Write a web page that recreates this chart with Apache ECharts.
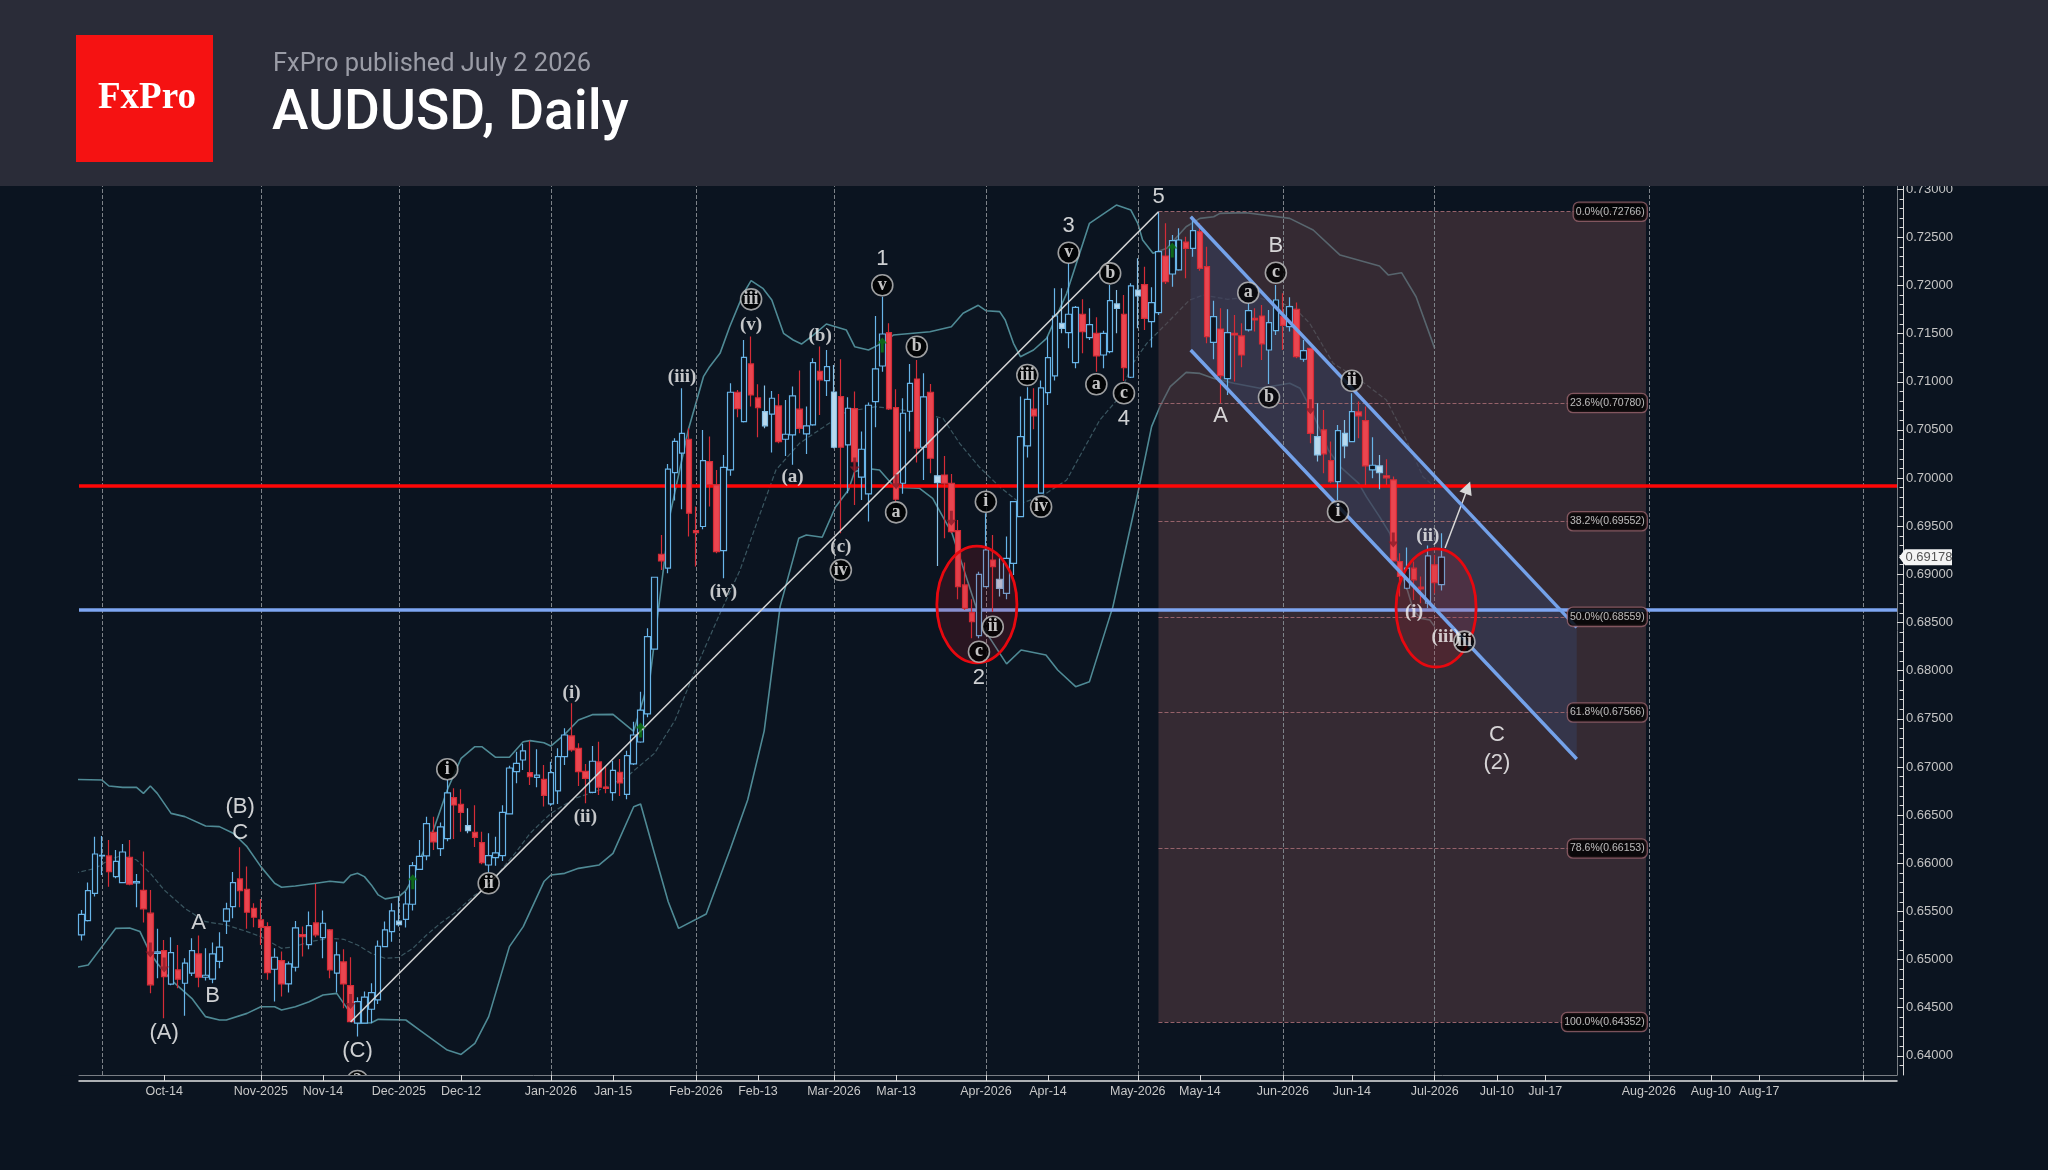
<!DOCTYPE html>
<html>
<head>
<meta charset="utf-8">
<title>AUDUSD, Daily</title>
<script src="https://cdn.jsdelivr.net/npm/echarts@6/dist/echarts.min.js"></script>
<style>html,body{margin:0;padding:0;background:#0b1420}#chart{width:2048px;height:1170px}</style>
</head>
<body>
<div id="chart"></div>
<script>
// Daily AUDUSD candles: [open, close, low, high], one row per trading day
const ohlc = [
[.65256,.65470,.65197,.65515],[.65404,.65716,.65394,.65799],[.65688,.66096,.65654,.66276],[.66076,.66083,.65878,.66283],
[.66076,.65913,.65757,.66242],[.65861,.66020,.65844,.66138],[.65799,.66117,.65792,.66200],[.66062,.65782,.65771,.66242],
[.65795,.65809,.65543,.65889],[.65719,.65526,.65384,.66121],[.65481,.64737,.64650,.65723],[.65065,.65079,.64806,.65321],
[.65093,.64823,.64391,.65204],[.64744,.65072,.64733,.65231],[.64892,.64796,.64702,.65152],[.64754,.64962,.64415,.65013],
[.64858,.65093,.64830,.65221],[.65058,.64816,.64712,.65249],[.64816,.64837,.64782,.65117],[.64796,.65058,.64754,.65176],
[.64982,.65128,.64910,.65283],[.65398,.65526,.65266,.65591],[.65550,.65799,.65429,.65910],[.65837,.65716,.65543,.66166],
[.65730,.65491,.65321,.65965],[.65532,.65439,.65335,.65584],[.65411,.65335,.65152,.65629],[.65342,.64865,.64789,.65387],
[.64899,.65024,.64564,.65117],[.64989,.64747,.64616,.65083],[.64747,.64955,.64657,.64979],[.64920,.65328,.64875,.65401],
[.65259,.65238,.65031,.65342],[.65155,.65353,.65107,.65498],[.65380,.65256,.65231,.65785],[.65228,.65377,.65013,.65508],
[.65308,.64892,.64806,.65318],[.64858,.65048,.64657,.65186],[.64975,.64747,.64494,.65107],[.64730,.64356,.64352,.65024],
[.64339,.64564,.64200,.64609],[.64339,.64609,.64332,.64667],[.64484,.64657,.64339,.64754],[.64581,.65138,.64539,.65197],
[.65135,.65308,.65128,.65394],[.65290,.65505,.65186,.65584],[.65363,.65398,.65342,.65654],[.65418,.65577,.65332,.65705],
[.65574,.65975,.65508,.66013],[.65937,.66072,.65930,.66242],[.66076,.66411,.66031,.66484],[.66321,.66221,.66138,.66484],
[.66152,.66377,.66076,.66422],[.66256,.66730,.66228,.66865],[.66681,.66605,.66252,.66778],[.66612,.66529,.66328,.66768],
[.66339,.66391,.66311,.66570],[.66321,.66269,.66169,.66602],[.66214,.66007,.65989,.66328],[.65982,.66079,.65906,.66311],
[.66058,.66107,.65975,.66276],[.66079,.66529,.66024,.66602],[.66512,.66989,.66508,.67013],[.66951,.67038,.66830,.67159],
[.67072,.67166,.66968,.67238],[.66941,.66899,.66813,.67273],[.66892,.66916,.66788,.67183],[.66872,.66705,.66588,.67020],
[.66616,.66941,.66598,.67055],[.66751,.67107,.66616,.67193],[.67107,.67332,.67020,.67401],[.67322,.67176,.67159,.67661],
[.67193,.66951,.66803,.67245],[.66955,.66882,.66623,.67031],[.66737,.67059,.66726,.67218],[.67052,.66789,.66709,.67263],
[.66792,.66778,.66726,.67003],[.66733,.66965,.66650,.67065],[.66944,.66834,.66699,.67083],[.66716,.67117,.66664,.67169],
[.67031,.67332,.67020,.67470],[.67259,.67591,.67252,.67782],[.67551,.68354,.67517,.68440],[.68223,.68970,.68216,.68970],
[.69209,.69139,.69046,.69409],[.69064,.70092,.69012,.70147],[.70057,.70382,.69766,.70413],[.70258,.70465,.69677,.70932],
[.70403,.69635,.69393,.70517],[.69455,.69434,.69081,.69704],[.69497,.70182,.69469,.70500],[.70171,.69933,.69704,.70431],
[.69929,.69237,.69220,.70085],[.69247,.70112,.68960,.70240],[.70085,.70891,.70023,.70984],[.70891,.70721,.70631,.70915],
[.70586,.71254,.70576,.71434],[.71185,.70863,.70742,.71469],[.70832,.70732,.70424,.70974],[.70542,.70690,.70517,.70960],
[.70663,.70829,.70265,.70905],[.70749,.70379,.70362,.70874],[.70403,.70455,.70230,.70811],[.70448,.70853,.70137,.70950],
[.70715,.70517,.70465,.71116],[.70458,.70542,.70251,.70742],[.70552,.71199,.70542,.71244],[.71109,.71019,.70656,.71365],
[.71012,.71157,.70853,.71330],[.70320,.70894,.70310,.71175],[.70846,.70320,.69427,.71234],[.70344,.70725,.69843,.70839],
[.70721,.70171,.69721,.70898],[.70009,.70299,.69773,.70483],[.69836,.70756,.69548,.70784],[.70794,.71133,.70528,.71683],
[.71164,.71496,.71105,.71884],[.71510,.70718,.70708,.71607],[.70732,.69780,.69756,.70922],[.69946,.70673,.69836,.70829],
[.70694,.70984,.70483,.71185],[.71029,.70310,.70161,.71227],[.70320,.70843,.69981,.71088],[.70891,.70206,.70050,.70977],
[.69953,.70023,.69088,.70621],[.70032,.69946,.69374,.70230],[.69946,.69444,.69426,.70042],[.69454,.68873,.68741,.69565],
[.68890,.68648,.68630,.69122],[.68603,.68509,.68336,.68741],[.68364,.69000,.68336,.69028],[.68873,.69253,.68866,.69634],
[.69149,.69080,.68613,.69409],[.68855,.68949,.68769,.69167],[.68803,.69167,.68741,.69392],[.69115,.69755,.68994,.69762],
[.69600,.70431,.69593,.70846],[.70334,.70818,.70213,.70943],[.70715,.70645,.70507,.70932],[.69843,.70936,.69836,.71012],
[.70888,.71251,.70759,.71469],[.71061,.71683,.71012,.71970],[.71555,.71607,.71503,.71970],[.71510,.71701,.71348,.72230],
[.71199,.71773,.71140,.71787],[.71701,.71521,.71296,.71856],[.71458,.71593,.71434,.71763],[.71503,.71268,.71105,.71669],
[.71278,.71503,.71140,.71531],[.71313,.71842,.71296,.72005],[.71763,.71808,.71503,.71953],[.71701,.71147,.71009,.71901],
[.71047,.71995,.71040,.72022],[.71891,.71953,.71555,.72282],[.72009,.71659,.71538,.72195],[.71625,.71822,.71355,.71981],
[.71718,.72351,.71694,.72766],[.72306,.72040,.72015,.72645],[.72119,.72465,.71988,.72524],[.72161,.72472,.72154,.72593],
[.72451,.72386,.72074,.72507],[.72386,.72569,.72299,.72714],[.72559,.72178,.72154,.72645],[.72195,.71469,.71400,.72403],
[.71410,.71676,.71234,.71842],[.71548,.71064,.70777,.71763],[.71033,.71510,.70863,.71753],[.71503,.71486,.71002,.71694],
[.71476,.71278,.71150,.71607],[.71538,.71739,.71521,.71815],[.71659,.71642,.71521,.71763],[.71683,.71393,.71227,.71797],
[.71330,.71614,.70977,.71746],[.71531,.71849,.71486,.72005],[.71676,.71586,.71330,.71919],[.71573,.71780,.71521,.71877],
[.71753,.71261,.71244,.71822],[.71234,.71323,.71209,.71434],[.71348,.70465,.70362,.71348],[.70240,.70431,.70171,.70777],
[.70500,.70251,.70050,.70708],[.70182,.69964,.69946,.70379],[.69964,.70493,.69773,.70552],[.70334,.70465,.70206,.70604],
[.70379,.70690,.70372,.70881],[.70687,.70645,.70413,.70794],[.70597,.70126,.69929,.70742],[.70085,.70133,.69998,.70424],
[.70057,.70126,.69884,.70240],[.70023,.70002,.69929,.70196],[.69981,.69140,.69133,.70016],[.69133,.68978,.68770,.69220],
[.68856,.69064,.68846,.69279],[.69064,.68943,.68735,.69133],[.68867,.68849,.68701,.68978],[.68701,.69192,.68649,.69299],
[.69099,.68915,.68805,.69202],[.68894,.69178,.68832,.69427]
];
// Small-bodied days that print as a solid pale bar
const paleBars = [46,56,99,109,124,133,142,150,153,179,183,188];

// Bollinger bands sampled as [bar index, price]
const bandUpper = [[-1,.66871],[3,.66864],[4,.66802],[6,.66788],[8,.66788],[9,.66726],[10,.66802],[11,.66726],[13,.66518],[15,.66484],[18,.66387],[20,.66380],[22,.66311],[24,.66172],[26,.65965],[28,.65792],[29,.65751],[31,.65764],[34,.65792],[36,.65813],[38,.65799],[39,.65875],[40,.65896],[41,.65861],[42,.65775],[43,.65671],[44,.65630],[46,.65654],[47,.65716],[48,.65844],[49,.66034],[51,.66346],[53,.66761],[55,.67089],[57,.67210],[58,.67210],[60,.67100],[62,.67100],[64,.67262],[65,.67273],[67,.67252],[68,.67217],[70,.67338],[72,.67487],[74,.67543],[77,.67546],[80,.67370],[82.4,.67950],[85.3,.69634],[87.9,.70499],[90.1,.71053],[91,.71157],[92.5,.71295],[93.9,.71572],[95.9,.71918],[97,.72050],[98.7,.71970],[100,.71849],[101.7,.71503],[103.1,.71434],[104.3,.71392],[106,.71485],[107.9,.71600],[110.8,.71537],[112,.71364],[114,.71330],[115.9,.71399],[117.6,.71485],[122.9,.71520],[126,.71572],[127.7,.71711],[129.9,.71794],[131,.71738],[133,.71728],[133.8,.71641],[135,.71399],[136,.71260],[137.9,.71330],[139.8,.71451],[142.7,.71918],[146,.72645],[149.9,.72835],[152,.72783],[153,.72645],[153.7,.72472],[155.2,.72334],[157.2,.72386],[160,.72610],[162,.72697],[164,.72714],[164.9,.72749],[168.7,.72756],[175,.72697],[178.4,.72576],[182.3,.72316],[188,.72202],[189.3,.72108],[191.2,.72133],[193.3,.71883],[196,.71347]];
const bandMiddle = [[-1,.65895],[2,.65947],[4,.66034],[6,.66085],[8,.66034],[10,.65895],[12,.65722],[15,.65532],[18,.65393],[21,.65359],[24,.65290],[26,.65238],[29,.65116],[31,.65134],[33,.65186],[36,.65220],[38,.65210],[40,.65151],[42,.65064],[44,.65012],[46,.65023],[48,.65116],[50,.65255],[52,.65376],[54,.65480],[57,.65670],[59,.65757],[61,.65947],[63,.66120],[65,.66311],[68,.66518],[71.5,.66674],[75,.66760],[79,.66899],[83,.67141],[86,.67487],[89,.68024],[92.5,.68595],[95.4,.69045],[97.8,.69530],[100.6,.70084],[104,.70361],[108.3,.70568],[110.8,.70689],[115.1,.70741],[120.9,.70689],[124.8,.70620],[127.2,.70361],[130,.70118],[133,.69910],[136,.69737],[139,.69807],[142.7,.69980],[147.5,.70603],[150,.70811],[152.3,.71191],[154.3,.71399],[157.2,.71607],[160.5,.71849],[162.5,.71901],[166,.71856],[169.7,.71884],[175.5,.71780],[177.9,.71607],[181.3,.71191],[185.2,.71018],[189,.70811],[191,.70534],[194.3,.70014],[196,.69910]];
const bandLower = [[-1,.64916],[1,.64943],[3,.65134],[5,.65324],[7,.65328],[8.5,.65290],[10,.65065],[11,.64961],[13,.64788],[16,.64597],[18,.64407],[20,.64372],[21,.64372],[24,.64441],[26,.64510],[28,.64510],[29,.64476],[31,.64510],[33,.64562],[35,.64632],[37,.64649],[39,.64441],[40,.64337],[42,.64344],[43,.64379],[47,.64372],[49,.64268],[51,.64164],[53,.64060],[55,.64015],[57,.64129],[59,.64407],[62,.65134],[64,.65342],[67,.65810],[68,.65878],[70,.65895],[72,.65947],[75,.65982],[77,.66103],[80,.66587],[81,.66615],[83,.66103],[85,.65600],[86.5,.65324],[90.5,.65473],[94,.66150],[96.5,.66657],[98.9,.67375],[101.2,.68665],[103.9,.69374],[105,.69409],[107.3,.69385],[109.2,.69696],[111.1,.69876],[112,.70067],[113.6,.70101],[115.6,.70084],[117.8,.69904],[121.4,.69894],[123.3,.69790],[126.1,.69426],[130.5,.68457],[134,.68070],[136.1,.68215],[139.7,.68163],[141.4,.68007],[144,.67834],[146,.67886],[149.4,.68665],[152.7,.69738],[155,.70534],[156.2,.70741],[157.7,.70949],[160,.71098],[162,.71087],[164,.71035],[166.9,.70984],[170.7,.70932],[175,.70984],[176.5,.70932],[177.9,.70741],[179.4,.70499],[180.6,.70291],[182.3,.70118],[185,.69945],[186.1,.69807],[188,.69599],[189.5,.69426],[190.9,.69062],[191.9,.68872],[192.9,.68630],[194,.68543],[195.3,.68526],[196,.68457]];

// Axis ticks
const xTickBars = [12,26,35,46,55,68,77,89,98,109,118,131,140,153,162,174,184,196,205,212,227,236,243];
const xTickText = ['Oct-14','Nov-2025','Nov-14','Dec-2025','Dec-12','Jan-2026','Jan-15','Feb-2026','Feb-13','Mar-2026','Mar-13','Apr-2026','Apr-14','May-2026','May-14','Jun-2026','Jun-14','Jul-2026','Jul-10','Jul-17','Aug-2026','Aug-10','Aug-17'];
const monthBars = [3,26,46,68,89,109,131,153,174,196,227,258];
const yMajor = [.64,.645,.65,.655,.66,.665,.67,.675,.68,.685,.69,.695,.70,.705,.71,.715,.72,.725,.73];
const yMinor = [];
for (let k = 639; k <= 730; k++) yMinor.push(k / 1000);

// Drawn levels and tools
const resistance = .69921;
const support = .68637;
const fibLevels = [[.72766,'0.0%(0.72766)'],[.70780,'23.6%(0.70780)'],[.69552,'38.2%(0.69552)'],[.68559,'50.0%(0.68559)'],[.67566,'61.8%(0.67566)'],[.66153,'78.6%(0.66153)'],[.64352,'100.0%(0.64352)']];
const fibBars = [156,226.6];
const trendLine = [[39,.64352],[156,.72766]];
const channelUpper = [[160.66,.72714],[216.57,.68450]];
const channelLower = [[160.66,.71330],[216.57,.67083]];
const forecastArrow = [[197.5,.69274],[200.8,.69900]];
const ellipses = [[129.7,.68687,5.8,.00607],[196.2,.68651,5.8,.00613]];

// Elliott wave counts: [bar, price, text]
const waveMajor = [[17,.65376,'A'],[19,.64625,'B'],[12,.64240,'(A)'],[23,.66581,'(B)'],[23,.66311,'C'],[40,.64054,'(C)'],[116,.72272,'1'],[130,.67921,'2'],[143,.72617,'3'],[151,.70610,'4'],[156,.72922,'5'],[165,.70644,'A'],[173,.72410,'B'],[205,.67332,'C'],[205,.67044,'(2)']];
const waveCircled = [[53,.66976,'i'],[59,.65792,'ii'],[97,.71856,'iii'],[110,.69045,'iv'],[116,.72002,'v'],[121,.71364,'b'],[118,.69644,'a'],[131,.69754,'i'],[132,.68456,'ii'],[130,.68197,'c'],[137,.71070,'iii'],[139,.69703,'iv'],[143,.72340,'v'],[149,.72126,'b'],[147,.70974,'a'],[151,.70880,'c'],[169,.71925,'a'],[173,.72132,'c'],[172,.70839,'b'],[182,.69651,'i'],[184,.71011,'ii'],[200.3,.68301,'iii'],[40,.63739,'2']];
const waveMinor = [[87,.71052,'(iii)'],[97,.71589,'(v)'],[107,.71475,'(b)'],[103,.70014,'(a)'],[93,.68814,'(iv)'],[110,.69287,'(c)'],[71,.67765,'(i)'],[73,.66484,'(ii)'],[193,.68606,'(i)'],[195,.69401,'(ii)'],[197.6,.68353,'(iii)']];

// Signal arrows: [bar, price]
const signalUp = [[48,.65809],[81,.67384],[116,.71382],[158,.72368]];
const signalDown = [[10,.65099],[12,.64944],[39,.64563],[112,.70135],[118,.69963],[126,.69582],[178,.70741],[190,.69357]];

const X_MIN = -0.333, X_MAX = 262.95, Y_MIN = .63801, Y_MAX = .73033;
const SANS = '"Liberation Sans",Arial,sans-serif';
const SERIF = '"Liberation Serif","DejaVu Serif",serif';
const lastClose = ohlc[ohlc.length - 1][1];

const waveSeries = (rows, label, itemStyle, size) => ({
  type: 'scatter', z: 8, clip: false, silent: true,
  symbol: 'circle', symbolSize: size, itemStyle,
  data: rows.map(r => ({ value: [r[0], r[1]], name: r[2] })),
  label: Object.assign({ show: true, position: 'inside', formatter: p => p.name }, label)
});

const polySeries = (z, build) => ({
  type: 'custom', z, silent: true, data: [[0, 0]], renderItem: build
});

const priceLine = (pts, color, width) => ({
  type: 'line', z: 6, silent: true, showSymbol: false, symbol: 'none',
  data: pts, lineStyle: { color, width }
});

const bandLine = (pts, color, width, type) => ({
  type: 'line', z: 1, silent: true, showSymbol: false, symbol: 'none',
  data: pts, lineStyle: { color, width, type }
});

const option = {
  animation: false,
  backgroundColor: '#0b1420',
  title: [
    { text: 'FxPro published July 2 2026', left: 273, top: 52, padding: 0, z: 30, textStyle: { fontFamily: 'Roboto', fontSize: 25.4, fontWeight: 400, color: '#9a9ca6' } },
    { text: 'AUDUSD, Daily', left: 272, top: 88, padding: 0, z: 30, textStyle: { fontFamily: 'Roboto', fontSize: 55, fontWeight: 500, color: '#ffffff' } },
    { text: 'FxPro', left: 98, top: 80, padding: 0, z: 30, textStyle: { fontFamily: SERIF, fontSize: 37, fontWeight: 700, color: '#ffffff' } }
  ],
  graphic: { elements: [
    { type: 'rect', z: 20, shape: { x: 0, y: 0, width: 2048, height: 186 }, style: { fill: '#2a2c38' }, silent: true },
    { type: 'rect', z: 21, shape: { x: 76, y: 35, width: 137, height: 127 }, style: { fill: '#f51212' }, silent: true },
    { type: 'rect', z: 9, shape: { x: 60, y: 1075.5, width: 1860, height: 30 }, style: { fill: '#0b1420' }, silent: true }
  ] },
  grid: { left: 79, right: 151, top: 186, bottom: 95, containLabel: false },
  xAxis: [
    { type: 'value', position: 'bottom', min: X_MIN, max: X_MAX, offset: 6, z: 10, splitLine: { show: false },
      axisLine: { onZero: false, lineStyle: { color: '#e4e4e4', width: 1.5 } },
      axisTick: { show: true, inside: true, length: 6, customValues: xTickBars.concat([258]), lineStyle: { color: '#d8d8d8' } },
      axisLabel: { show: true, customValues: xTickBars, margin: 4, color: '#c8c8c8', fontSize: 12.5, fontFamily: SANS,
        formatter: v => xTickText[xTickBars.indexOf(v)] || '' } },
    { type: 'value', position: 'bottom', min: X_MIN, max: X_MAX, z: 10, splitLine: { show: false },
      axisLine: { onZero: false, lineStyle: { color: '#7a7f85', width: 1 } }, axisTick: { show: false }, axisLabel: { show: false } }
  ],
  yAxis: [
    { type: 'value', position: 'right', min: Y_MIN, max: Y_MAX, z: 10, splitLine: { show: false },
      axisLine: { show: true, onZero: false, lineStyle: { color: '#7a7f85' } }, axisTick: { show: false }, axisLabel: { show: false } },
    { type: 'value', position: 'right', offset: 6, min: Y_MIN, max: Y_MAX, z: 10, splitLine: { show: false },
      axisLine: { show: true, onZero: false, lineStyle: { color: '#d8d8d8' } },
      axisTick: { show: true, inside: true, length: 3.5, customValues: yMinor, lineStyle: { color: '#d8d8d8' } }, axisLabel: { show: false } },
    { type: 'value', position: 'right', offset: 6, min: Y_MIN, max: Y_MAX, z: 10, splitLine: { show: false },
      axisLine: { show: false, onZero: false },
      axisTick: { show: true, inside: true, length: 6, customValues: yMajor, lineStyle: { color: '#d8d8d8' } },
      axisLabel: { show: true, customValues: yMajor, margin: 3, color: '#c4c4c4', fontSize: 13, fontFamily: SANS, formatter: v => v.toFixed(5) } }
  ],
  series: [
    // Month separators and the two horizontal levels
    { type: 'line', z: 0, silent: true, data: [], markLine: { silent: true, symbol: 'none', precision: 5, label: { show: false },
        lineStyle: { color: '#7d8288', type: 'dashed', width: 1 }, data: monthBars.map(m => ({ xAxis: m })) } },
    bandLine(bandUpper, '#4f8a95', 1.6),
    bandLine(bandLower, '#4f8a95', 1.6),
    bandLine(bandMiddle, '#3a5660', 1.2, 'dashed'),
    // Fibonacci retracement box
    polySeries(2, (p, api) => {
      const a = api.coord([fibBars[0], fibLevels[0][0]]), b = api.coord([fibBars[1], fibLevels[6][0]]);
      return { type: 'rect', shape: { x: a[0], y: a[1], width: b[0] - a[0], height: b[1] - a[1] }, style: { fill: 'rgba(95,63,70,.5)' } };
    }),
    // Descending channel body
    polySeries(3, (p, api) => ({
      type: 'polygon',
      shape: { points: [channelUpper[0], channelUpper[1], channelLower[1], channelLower[0]].map(q => api.coord(q)) },
      style: { fill: 'rgba(53,63,97,.5)' }
    })),
    { type: 'line', z: 4, silent: true, data: [], markLine: { silent: true, symbol: 'none', precision: 5, label: { show: false },
        lineStyle: { color: '#96626a', type: 'dashed', width: 1 },
        data: fibLevels.map(f => [{ coord: [fibBars[0], f[0]] }, { coord: [fibBars[1] - 3, f[0]] }]) } },
    // Price candles
    { type: 'candlestick', z: 5, barWidth: 6, silent: true,
      itemStyle: { color: '#0b1420', color0: '#ea4650', borderColor: '#68b4e8', borderColor0: '#d52c37', borderWidth: 1.2 },
      data: ohlc.map((r, i) => paleBars.includes(i)
        ? { value: [i].concat(r), itemStyle: { color: '#b9d9ee', borderColor: '#86c0e6' } }
        : { value: [i].concat(r) }) },
    // Highlight ellipses around the two lows
    polySeries(6, (p, api) => ({
      type: 'group',
      children: ellipses.map(e => {
        const c = api.coord([e[0], e[1]]), t = api.coord([e[0] + e[2], e[1] + e[3]]);
        return { type: 'ellipse', shape: { cx: c[0], cy: c[1], rx: t[0] - c[0], ry: c[1] - t[1] },
          style: { fill: 'rgba(190,30,40,.17)', stroke: '#e8080f', lineWidth: 2.8 } };
      })
    })),
    priceLine(trendLine, '#d4d4d4', 1.6),
    priceLine(channelUpper, '#74a2ea', 3.4),
    priceLine(channelLower, '#74a2ea', 3.4),
    { type: 'line', z: 6, silent: true, data: [], markLine: { silent: true, symbol: 'none', precision: 5, label: { show: false },
        data: [ { yAxis: resistance, lineStyle: { color: '#ff0606', width: 3.6, type: 'solid' } },
                { yAxis: support, lineStyle: { color: '#7ea6f2', width: 3.6, type: 'solid' } } ] } },
    { type: 'line', z: 7, silent: true, data: [], markLine: { silent: true, symbol: ['none', 'triangle'], symbolSize: 13, precision: 5, label: { show: false },
        lineStyle: { color: '#d8d8d8', width: 1.5, type: 'solid' },
        data: [[{ coord: forecastArrow[0] }, { coord: forecastArrow[1] }]] } },
    // Signal arrows
    { type: 'scatter', z: 7, silent: true, clip: false, symbol: 'path://M5,0 L10,6 L6.5,6 L6.5,15 L3.5,15 L3.5,6 L0,6 Z', symbolSize: [10, 15],
      itemStyle: { color: '#0e7a18' }, data: signalUp },
    { type: 'scatter', z: 7, silent: true, clip: false, symbol: 'path://M5,0 L10,6 L6.5,6 L6.5,15 L3.5,15 L3.5,6 L0,6 Z', symbolSize: [10, 15], symbolRotate: 180,
      itemStyle: { color: '#8a1a28' }, data: signalDown },
    // Fibonacci price tags
    { type: 'scatter', z: 8, silent: true, symbolSize: 0, data: fibLevels.map(f => ({ value: [fibBars[1] + .1, f[0]], name: f[1] })),
      label: { show: true, position: 'left', distance: 0, formatter: p => p.name, color: '#e6e6e6', fontSize: 10.5, fontFamily: SANS,
        backgroundColor: '#000', borderColor: '#96626a', borderWidth: 1.3, borderRadius: 5, padding: [4, 2, 3, 2] } },
    // Elliott wave labels
    waveSeries(waveMajor, { color: '#ffffff', fontSize: 22, fontFamily: SANS }, { color: 'transparent' }, 1),
    waveSeries(waveMinor, { color: '#f4f4f4', fontSize: 19, fontWeight: 700, fontFamily: SERIF }, { color: 'transparent' }, 1),
    waveSeries(waveCircled, { color: '#f4f4f4', fontSize: 18, fontWeight: 700, fontFamily: SERIF }, { color: '#000000', borderColor: '#c4c4c4', borderWidth: 1.6 }, 21),
    // Last price tag on the scale
    polySeries(11, (p, api) => {
      const c = api.coord([X_MAX, lastClose]);
      return { type: 'group', children: [
        { type: 'polygon', shape: { points: [[c[0] + 2, c[1]], [c[0] + 8, c[1] - 8], [c[0] + 55, c[1] - 8], [c[0] + 55, c[1] + 8], [c[0] + 8, c[1] + 8]] }, style: { fill: '#f4f4f4' } },
        { type: 'text', style: { x: c[0] + 8.5, y: c[1], text: lastClose.toFixed(5), fill: '#555', font: '13px ' + SANS, verticalAlign: 'middle' } }
      ] };
    })
  ]
};

const chart = echarts.init(document.getElementById('chart'), null, { renderer: 'canvas', width: 2048, height: 1170 });
chart.setOption(option);
</script>
</body>
</html>
